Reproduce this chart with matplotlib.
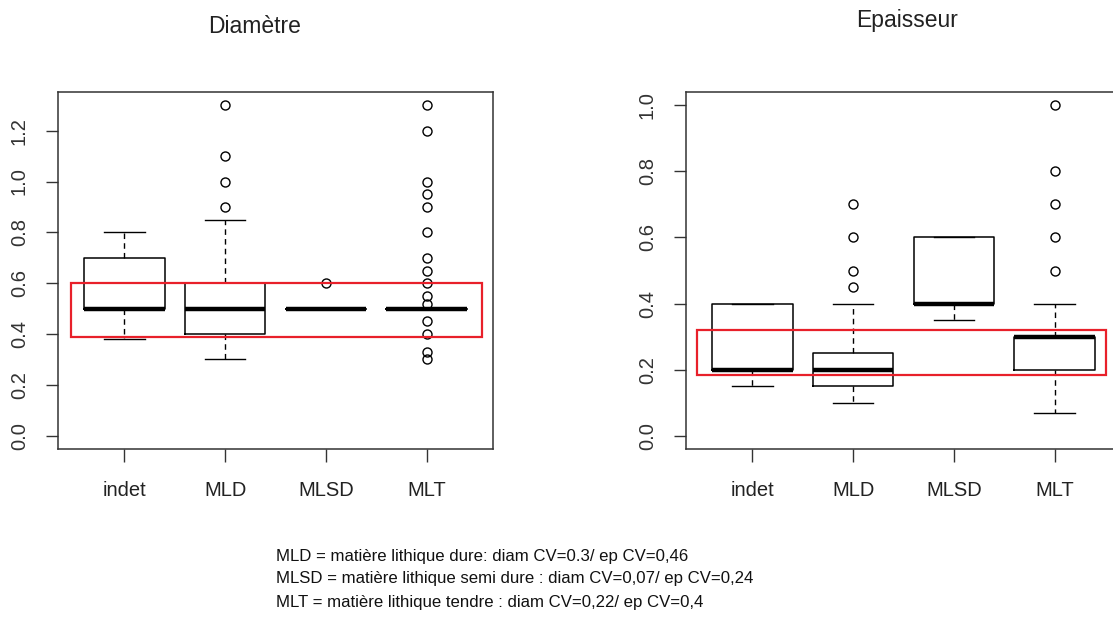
import matplotlib
matplotlib.use("Agg")
import matplotlib.pyplot as plt
from matplotlib.patches import Rectangle

plt.rcParams['font.family'] = ['Liberation Sans', 'DejaVu Sans']

categories = ["indet", "MLD", "MLSD", "MLT"]

# Diamètre: box statistics
diam_whislo = [0.38, 0.30, 0.50, 0.50]
diam_q1 = [0.50, 0.40, 0.50, 0.50]
diam_med = [0.50, 0.50, 0.50, 0.50]
diam_q3 = [0.70, 0.60, 0.50, 0.50]
diam_whishi = [0.80, 0.85, 0.50, 0.50]
diam_fliers = [
    [],
    [0.9, 1.0, 1.1, 1.3],
    [0.6],
    [0.3, 0.33, 0.4, 0.45, 0.52, 0.55, 0.6, 0.65, 0.7, 0.8, 0.9, 0.95, 1.0, 1.2, 1.3],
]

# Epaisseur
ep_whislo = [0.15, 0.10, 0.35, 0.07]
ep_q1 = [0.20, 0.15, 0.40, 0.20]
ep_med = [0.20, 0.20, 0.40, 0.30]
ep_q3 = [0.40, 0.25, 0.60, 0.30]
ep_whishi = [0.40, 0.40, 0.60, 0.40]
ep_fliers = [
    [],
    [0.45, 0.5, 0.6, 0.7],
    [],
    [0.5, 0.6, 0.7, 0.8, 1.0],
]

# red highlight zones (x0, x1, y0, y1) in data units
diam_zone = (0.47, 4.55, 0.39, 0.60)
ep_zone = (0.45, 4.51, 0.185, 0.32)

diam_ticks = [0.0, 0.2, 0.4, 0.6, 0.8, 1.0, 1.2]
ep_ticks = [0.0, 0.2, 0.4, 0.6, 0.8, 1.0]

notes = [
    "MLD = matière lithique dure: diam CV=0.3/ ep CV=0,46",
    "MLSD = matière lithique semi dure : diam CV=0,07/ ep CV=0,24",
    "MLT = matière lithique tendre : diam CV=0,22/ ep CV=0,4",
]


def make_stats(lo, q1, med, q3, hi, fliers):
    stats = []
    for i in range(len(categories)):
        stats.append(dict(whislo=lo[i], q1=q1[i], med=med[i], q3=q3[i],
                          whishi=hi[i], fliers=fliers[i], label=categories[i]))
    return stats


def draw_panel(ax, stats, ticks, ylim, zone):
    ax.bxp(stats, positions=[1, 2, 3, 4], widths=0.8, capwidths=0.4,
           showfliers=True,
           boxprops=dict(color="black", linewidth=1.1),
           medianprops=dict(color="black", linewidth=3.2, solid_capstyle="butt"),
           whiskerprops=dict(color="black", linewidth=1.0, linestyle=(0, (4, 3))),
           capprops=dict(color="black", linewidth=1.0),
           flierprops=dict(marker="o", markersize=6.5, markerfacecolor="none",
                           markeredgecolor="black", markeredgewidth=1.0))
    x0, x1, y0, y1 = zone
    ax.add_patch(Rectangle((x0, y0), x1 - x0, y1 - y0, fill=False,
                           edgecolor="#e8202a", linewidth=1.6, zorder=5))
    ax.set_xlim(0.34, 4.66)
    ax.set_ylim(*ylim)
    ax.set_yticks(ticks)
    ax.set_yticklabels([f"{t:.1f}" for t in ticks], rotation=90, va="center")
    ax.tick_params(axis="y", labelsize=14.5, length=9, width=1.0, pad=12,
                   colors="#333333", labelcolor="#333333")
    ax.tick_params(axis="x", labelsize=14.5, length=9, width=1.0, pad=14,
                   colors="#333333", labelcolor="#222222")
    for s in ax.spines.values():
        s.set_linewidth(1.1)
        s.set_color("#333333")


fig = plt.figure(figsize=(11.13, 6.17), dpi=100)
ax1 = fig.add_axes([58 / 1113, 168 / 617, 435 / 1113, 357 / 617])
ax2 = fig.add_axes([686 / 1113, 168 / 617, 435 / 1113, 357 / 617])

draw_panel(ax1, make_stats(diam_whislo, diam_q1, diam_med, diam_q3, diam_whishi, diam_fliers),
           diam_ticks, (-0.052, 1.352), diam_zone)
draw_panel(ax2, make_stats(ep_whislo, ep_q1, ep_med, ep_q3, ep_whishi, ep_fliers),
           ep_ticks, (-0.04, 1.04), ep_zone)

fig.text(255 / 1113, 1 - 33 / 617, "Diamètre", ha="center", va="baseline", fontsize=16.5, color="#222222")
fig.text(907 / 1113, 1 - 27 / 617, "Epaisseur", ha="center", va="baseline", fontsize=16.5, color="#222222")

for i, line in enumerate(notes):
    fig.text(276 / 1113, 1 - (556 + 23 * i) / 617, line, ha="left", va="center",
             fontsize=12.1, color="#111111")

fig.savefig("out.png", dpi=100)
